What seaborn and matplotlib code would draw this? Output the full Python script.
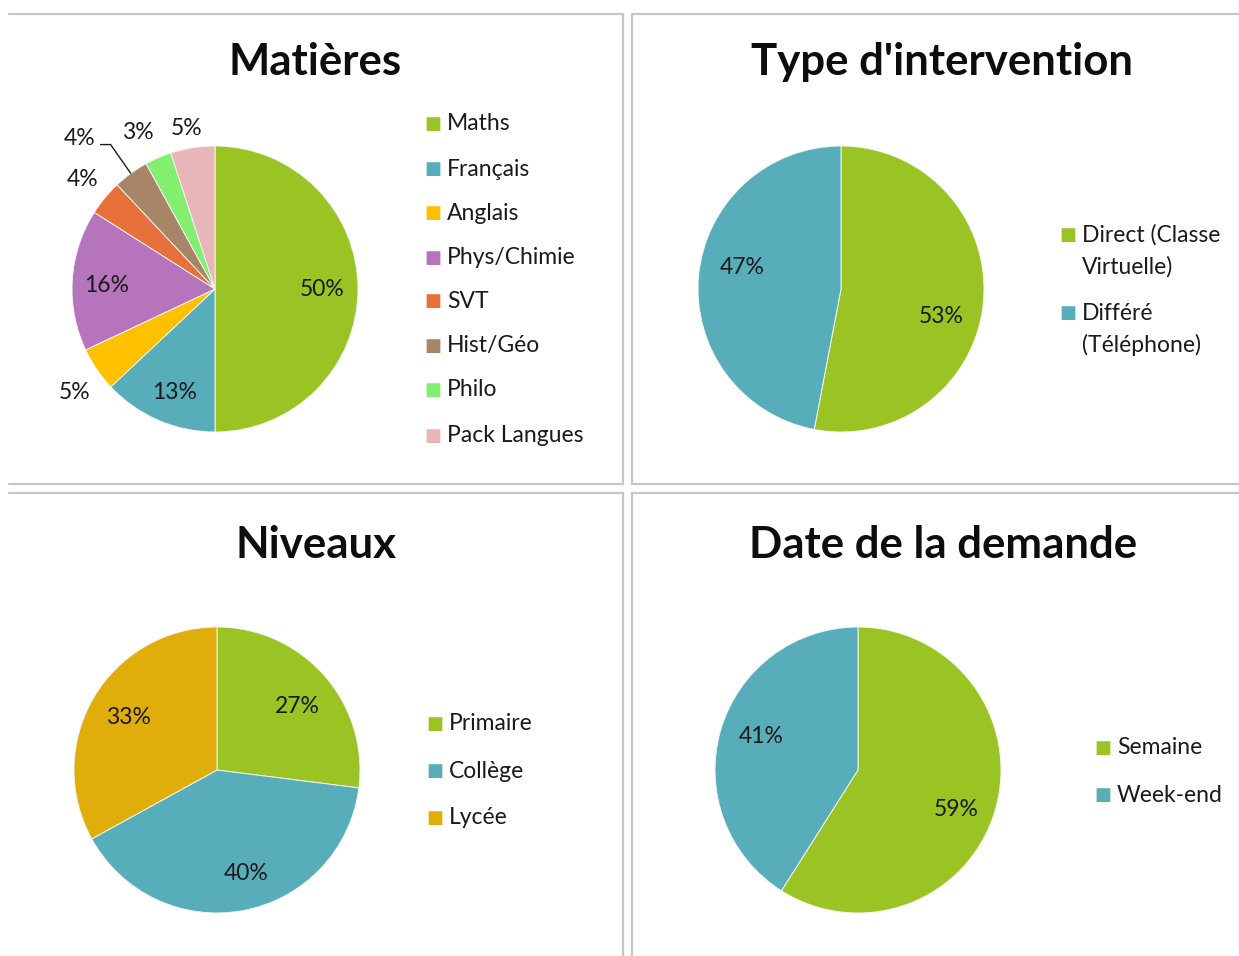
import matplotlib
matplotlib.use("Agg")
import matplotlib.pyplot as plt
import seaborn as sns
import numpy as np
from matplotlib.lines import Line2D

# ---------------- data ----------------
matieres_labels = ["Maths", "Français", "Anglais", "Phys/Chimie", "SVT", "Hist/Géo", "Philo", "Pack Langues"]
matieres_values = [50, 13, 5, 16, 4, 4, 3, 5]

type_labels = ["Direct (Classe\nVirtuelle)", "Différé\n(Téléphone)"]
type_values = [53, 47]

niveaux_labels = ["Primaire", "Collège", "Lycée"]
niveaux_values = [27, 40, 33]

date_labels = ["Semaine", "Week-end"]
date_values = [59, 41]

titles = ["Matières", "Type d'intervention", "Niveaux", "Date de la demande"]

# ---------------- style ----------------
sns.set_theme(style="white")
plt.rcParams["font.family"] = ["Lato", "DejaVu Sans"]

GREEN = "#9AC423"
TEAL = "#57AEBA"
matieres_colors = sns.color_palette([GREEN, TEAL, "#FFC000", "#B674BC", "#E8703A",
                                     "#A68666", "#82F06E", "#E8B6B9"])
type_colors = sns.color_palette([GREEN, TEAL])
niveaux_colors = sns.color_palette([GREEN, TEAL, "#E0AE0A"])
date_colors = sns.color_palette([GREEN, TEAL])

W, H = 1239, 956
fig = plt.figure(figsize=(W / 100, H / 100), dpi=100)
fig.patch.set_facecolor("white")

R = 143  # pie radius in px
TXT = "#1a1a1a"
LBL_FS = 16.5
LEG_FS = 16.5
TITLE_FS = 31.5
LINE_STEP = 32  # px between wrapped legend lines


def ax_at(cx, cy):
    return fig.add_axes([(cx - R) / W, 1 - (cy + R) / H, 2 * R / W, 2 * R / H])


def draw_pie(ax, values, colors, label_r, angle_off):
    wedges, _ = ax.pie(values, colors=colors, startangle=90, counterclock=False,
                       radius=1, wedgeprops=dict(edgecolor="#f4f4f0", linewidth=0.7))
    ax.set_xlim(-1, 1)
    ax.set_ylim(-1, 1)
    ax.set_aspect("equal")
    ax.axis("off")
    for i, w in enumerate(wedges):
        mid = np.deg2rad((w.theta1 + w.theta2) / 2 + angle_off[i])
        r = label_r[i]
        ax.text(r * np.cos(mid), r * np.sin(mid), f"{values[i]}%", ha="center", va="center",
                fontsize=LBL_FS, color=TXT, clip_on=False)
    return wedges


def legend_at(labels, colors, x, ys):
    for lab, col, y in zip(labels, colors, ys):
        fig.text(x / W, 1 - y / H, "\u25A0", fontsize=13, color=col, ha="center", va="center",
                 family="DejaVu Sans")
        for k, line in enumerate(lab.split("\n")):
            yy = y + k * LINE_STEP
            fig.text((x + 14) / W, 1 - yy / H, line, fontsize=LEG_FS, color=TXT,
                     ha="left", va="center")


def title_at(x, y, s):
    fig.text(x / W, 1 - y / H, s, fontsize=TITLE_FS, fontweight="bold", ha="center",
             va="center", color="#0d0d0d")


# --- Matières ---
ax1 = ax_at(215, 289)
draw_pie(ax1, matieres_values, matieres_colors,
         [0.75, 0.78, 1.22, 0.76, 1.2, 1.42, 1.22, 1.14],
         [0, 2, 2, 2, 0, 6, 3, 1])
# leader line for Hist/Géo label
ax1.add_line(Line2D([-0.80, -0.73, -0.59], [1.01, 1.01, 0.81], color="#1c1c1c", lw=1.0, clip_on=False))
title_at(315, 62, titles[0])
legend_at(matieres_labels, matieres_colors, 433, [124, 169, 213, 258, 301, 346, 390, 436])

# --- Type d'intervention ---
ax2 = ax_at(841, 289)
draw_pie(ax2, type_values, type_colors, [0.73, 0.71], [-10, -7])
title_at(942, 62, titles[1])
legend_at(type_labels, type_colors, 1068, [235, 313])

# --- Niveaux ---
ax3 = ax_at(217, 770)
draw_pie(ax3, niveaux_values, niveaux_colors, [0.72, 0.75, 0.72], [-3, 5, 0])
title_at(316, 545, titles[2])
legend_at(niveaux_labels, niveaux_colors, 435, [724, 771, 818])

# --- Date de la demande ---
ax4 = ax_at(858, 770)
draw_pie(ax4, date_values, date_colors, [0.74, 0.72], [-6, -3])
title_at(943, 545, titles[3])
legend_at(date_labels, date_colors, 1103, [748, 795])

# --- panel borders ---
LC = "#c6c6c6"
LW = 1.6


def hline(y, x0, x1):
    fig.add_artist(Line2D([x0 / W, x1 / W], [1 - y / H, 1 - y / H], color=LC, lw=LW))


def vline(x, y0, y1):
    fig.add_artist(Line2D([x / W, x / W], [1 - y0 / H, 1 - y1 / H], color=LC, lw=LW))


hline(14, 9, 623)
hline(484, 9, 623)
vline(623, 14, 484)
hline(14, 632, 1239)
hline(484, 632, 1239)
vline(632, 14, 484)
hline(493, 9, 623)
vline(623, 493, 956)
hline(493, 632, 1239)
vline(632, 493, 956)

fig.savefig("out.png", dpi=100, facecolor="white")
